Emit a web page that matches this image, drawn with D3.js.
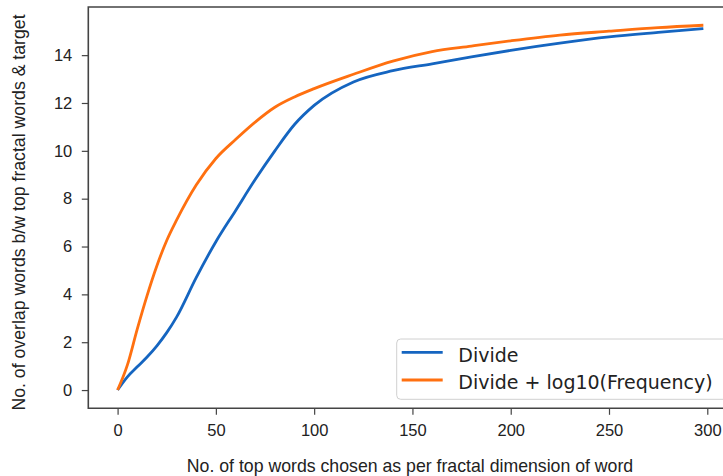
<!DOCTYPE html>
<html>
<head>
<meta charset="utf-8">
<script src="https://cdn.jsdelivr.net/npm/d3@7"></script>
<style>
  body { margin: 0; background: #fff; }
  .tick text { font-family: "Liberation Sans", Arial, sans-serif; font-size: 16.5px; fill: #222; }
  .axis-label { font-family: "Liberation Sans", Arial, sans-serif; font-size: 17.7px; fill: #222; }
  .legend text { font-family: "DejaVu Sans", sans-serif; font-size: 19px; fill: #222; }
</style>
</head>
<body>
<div id="chart"></div>
<script>
// values
var xValues = [0, 5, 10, 15, 20, 25, 30, 40, 50, 60, 70, 80, 90, 100, 120, 140, 160, 180, 200, 225, 250, 275, 298];
var divide = [0, 0.55, 0.97, 1.38, 1.85, 2.4, 3.05, 4.7, 6.2, 7.5, 8.8, 10.0, 11.1, 11.9, 12.88, 13.35, 13.64, 13.93, 14.2, 14.5, 14.76, 14.95, 15.11];
var divideLog = [0, 1.05, 2.55, 3.95, 5.2, 6.25, 7.1, 8.57, 9.68, 10.47, 11.2, 11.82, 12.25, 12.6, 13.2, 13.75, 14.15, 14.38, 14.6, 14.84, 15.0, 15.15, 15.25];
var seriesNames = ["Divide", "Divide + log10(Frequency)"];
var seriesColors = ["#1565c0", "#ff7010"];
var xTicks = [0, 50, 100, 150, 200, 250, 300];
var yTicks = [0, 2, 4, 6, 8, 10, 12, 14];

function init(){
    var w = 723;
    var h = 476;
    var left = 88.3, top = 7, bottom = 408.3;

    var xMax = d3.max(xValues);
    var xPad = xMax * 0.05;
    var yMax = d3.max(divideLog.concat(divide));
    var yPad = yMax * 0.05;

    // px per unit picked so that 0 -> 117 and 300 -> 706.7
    var pxPerX = (706.7 - 117) / 300;
    var xScale = d3.scaleLinear()
      .domain([-xPad, xMax + xPad])
      .range([left, left + (xMax + 2 * xPad) * pxPerX]);

    var yScale = d3.scaleLinear()
      .domain([-yPad, yMax + yPad])
      .range([bottom, top]);

    var svg = d3.select("#chart")
      .append("svg")
      .attr("width", w)
      .attr("height", h);

    var line = d3.line()
      .x(function(d){ return xScale(d[0]); })
      .y(function(d){ return yScale(d[1]); })
      .curve(d3.curveMonotoneX);

    [divide, divideLog].forEach(function(vals, i){
        svg.append("path")
          .datum(xValues.map(function(x, j){ return [x, vals[j]]; }))
          .attr("fill", "none")
          .attr("stroke", seriesColors[i])
          .attr("stroke-width", 2.8)
          .attr("d", line);
    });

    var xAxis = d3.axisBottom(xScale).tickValues(xTicks).tickSize(6.5).tickPadding(9);
    var yAxis = d3.axisLeft(yScale).tickValues(yTicks).tickSize(6.5).tickPadding(9.5);

    var gx = svg.append("g").attr("transform", "translate(0," + bottom + ")").call(xAxis);
    var gy = svg.append("g").attr("transform", "translate(" + left + ",0)").call(yAxis);
    [gx, gy].forEach(function(g){
        g.select(".domain").remove();
        g.selectAll(".tick line").attr("stroke", "#444").attr("stroke-width", 1.2);
    });

    // spines (right one falls off the canvas)
    var x1 = xScale.range()[1];
    svg.append("path")
      .attr("d", "M" + x1 + "," + top + "H" + left + "V" + bottom + "H" + x1)
      .attr("fill", "none")
      .attr("stroke", "#444")
      .attr("stroke-width", 1.6);

    svg.append("text")
      .attr("class", "axis-label")
      .attr("x", 410)
      .attr("y", 471.5)
      .attr("text-anchor", "middle")
      .text("No. of top words chosen as per fractal dimension of word");

    svg.append("text")
      .attr("class", "axis-label")
      .attr("transform", "translate(25,212.5) rotate(-90)")
      .attr("text-anchor", "middle")
      .text("No. of overlap words b/w top fractal words & target");

    // legend
    var lg = svg.append("g").attr("class", "legend");
    lg.append("rect")
      .attr("x", 396.7).attr("y", 339)
      .attr("width", 340).attr("height", 60.3)
      .attr("rx", 4)
      .attr("fill", "#fff").attr("fill-opacity", 0.8)
      .attr("stroke", "#d0d0d0").attr("stroke-width", 1);
    seriesNames.forEach(function(name, i){
        var yy = 352.3 + i * 27.7;
        lg.append("line")
          .attr("x1", 401.7).attr("x2", 442.7)
          .attr("y1", yy).attr("y2", yy)
          .attr("stroke", seriesColors[i])
          .attr("stroke-width", 2.8);
        lg.append("text")
          .attr("x", 458.3)
          .attr("y", yy + 9.3)
          .text(name);
    });
}

window.onload = init;
</script>
</body>
</html>
